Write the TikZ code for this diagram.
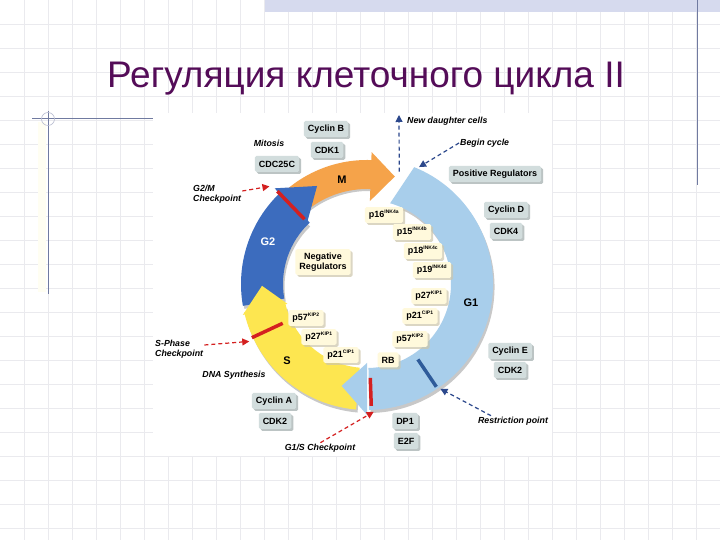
\documentclass[tikz,border=0pt]{standalone}
\usepackage{fontspec}
\setmainfont{Liberation Sans}
\setsansfont{Liberation Sans}
\usetikzlibrary{arrows.meta,shadows}
\definecolor{titlecol}{RGB}{84,12,88}
\definecolor{gridcol}{RGB}{234,234,238}
\definecolor{bandcol}{RGB}{214,218,238}
\definecolor{decocol}{RGB}{112,122,160}
\definecolor{gone}{RGB}{168,206,235}
\definecolor{sphase}{RGB}{253,230,80}
\definecolor{gtwo}{RGB}{60,108,190}
\definecolor{mphase}{RGB}{245,163,74}
\definecolor{ringshadow}{RGB}{200,200,200}
\definecolor{chkred}{RGB}{212,32,32}
\definecolor{restblue}{RGB}{46,91,154}
\definecolor{arrowblue}{RGB}{44,72,140}
\definecolor{greyfill}{RGB}{210,221,221}
\definecolor{greyshadow}{RGB}{160,172,172}
\definecolor{creamfill}{RGB}{255,249,220}
\definecolor{creamshadow}{RGB}{205,198,170}
\newcommand\myseg[5]{\fill[#1] (#2:#5pt) arc[start angle=#2,end angle=#3,radius=#5pt] -- (#3:#4pt) arc[start angle=#3,end angle=#2,radius=#4pt] -- cycle;}
\newcommand\myhead[6]{\fill[#1] (#2:#4pt) -- (#2:#5pt) -- (#3:#6pt) -- cycle;}
\newcommand\supx[1]{\textsuperscript{\fontsize{5}{5}\selectfont #1}}
\tikzset{
  gridline/.style={draw=gridcol,line width=0.8pt},
  greybox/.style={fill=greyfill,rounded corners=1.5pt,font=\fontsize{9}{10.5}\selectfont\bfseries,inner xsep=4pt,minimum height=16pt,
    drop shadow={shadow xshift=2pt,shadow yshift=-2pt,fill=greyshadow,opacity=0.7}},
  creambox/.style={fill=creamfill,rounded corners=1.5pt,font=\fontsize{9}{10.5}\selectfont\bfseries,inner xsep=4pt,minimum height=15pt,
    drop shadow={shadow xshift=2pt,shadow yshift=-2pt,fill=creamshadow,opacity=0.7}},
  itlabel/.style={font=\fontsize{8.8}{10}\selectfont\bfseries\itshape,inner sep=1pt},
  phaselabel/.style={font=\fontsize{11}{12}\selectfont\bfseries},
  redarrow/.style={draw=chkred,line width=1.2pt,dash pattern=on 4pt off 3pt,-{Triangle[length=7pt,width=7pt]}},
  bluearrow/.style={draw=arrowblue,line width=1.2pt,dash pattern=on 4pt off 3pt,-{Triangle[length=7pt,width=7pt]}},
  chkbar/.style={line width=3.5pt},
}
\begin{document}
\begin{tikzpicture}[x=1pt,y=1pt]
\useasboundingbox (0,0) rectangle (720,540);
\fill[white] (0,0) rectangle (720,540);
% grid
\foreach \i in {1,...,29} \draw[gridline] (\i*24,0) -- (\i*24,540);
\foreach \j in {1,...,22} \draw[gridline] (0,540-\j*24) -- (720,540-\j*24);
% top band and decorative lines
\fill[bandcol] (265,528) rectangle (720,540);
\draw[decocol,line width=0.9pt] (697,540) -- (697,355);
\fill[yellow!5] (38,418) rectangle (46,248);
\draw[decocol,line width=0.9pt] (32,422) -- (156,422);
\draw[decocol,line width=0.9pt] (48,429) -- (48,246);
\draw[decocol!50,line width=0.6pt] (48,421) circle (6.5);
% title
\node[font=\fontsize{37}{42}\selectfont,text=titlecol,inner sep=0pt,anchor=base] (title) at (366,452) {Регуляция клеточного цикла II};
% diagram area
\fill[white] (153,427) rectangle (552,84);
\begin{scope}[shift={(367,256)}]
  % shadows
  \begin{scope}[shift={(1.5,-3)}]
    \myseg{ringshadow}{68}{-89}{84}{126}
    \myseg{ringshadow}{-95}{-165}{84}{126}
    \myseg{ringshadow}{190}{134}{84}{126}
    \myseg{ringshadow}{132}{88}{96}{123}
  \end{scope}
  % G1 body with slanted start
  \fill[gone] (68:126pt) arc[start angle=68,end angle=-89,radius=126pt] -- (-89:84pt) arc[start angle=-89,end angle=74,radius=84pt] -- cycle;
  % M
  \myseg{mphase}{132}{87}{95}{124}
  \myhead{mphase}{88}{75.5}{83}{132}{111}
  % G2
  \myseg{gtwo}{190}{133}{84}{126}
  \myhead{gtwo}{134}{117}{86}{133}{110}
  % S
  \myseg{sphase}{-95}{-167}{84}{126}
  \myhead{sphase}{-166}{-179}{82}{128}{105}
  % G1 arrow head
  \myhead{gone}{-90}{-104}{79}{131}{105}
  % checkpoint bars
  \draw[chkbar,chkred] (134:90pt) -- (134:129pt);
  \draw[chkbar,chkred] (205:93pt) -- (205:127pt);
  \draw[chkbar,chkred] (-88:94pt) -- (-88:122pt);
  \draw[chkbar,restblue] (-56:91pt) -- (-56:124pt);
  % named anchors on the ring
  \coordinate (gmtip) at (135:138pt);
  \coordinate (sptip) at (206:131pt);
  \coordinate (gstip) at (-87:128pt);
  \coordinate (rptip) at (-55:128pt);
  \coordinate (newfrom) at (74:117pt);
  \coordinate (begintip) at (66:128pt);
\end{scope}
% phase labels
\node[phaselabel] (lM) at (342,360) {M};
\node[phaselabel,text=white] (lG2) at (268,298) {G2};
\node[phaselabel] (lS) at (287,179) {S};
\node[phaselabel] (lG1) at (471,237) {G1};
% grey boxes
\node[greybox] (cycB) at (326,411) {Cyclin B};
\node[greybox] (cdk1) at (327,390) {CDK1};
\node[greybox] (cdc25) at (277,376) {CDC25C};
\node[greybox] (posreg) at (495,366) {Positive Regulators};
\node[greybox] (cycD) at (506,330) {Cyclin D};
\node[greybox] (cdk4) at (506,309) {CDK4};
\node[greybox] (cycE) at (510,189) {Cyclin E};
\node[greybox] (cdk2a) at (510,170) {CDK2};
\node[greybox] (dp1) at (405,119) {DP1};
\node[greybox] (e2f) at (406,99) {E2F};
\node[greybox] (cycA) at (274,139) {Cyclin A};
\node[greybox] (cdk2b) at (275,119) {CDK2};
% cream boxes
\node[creambox,align=center] (negreg) at (323,278) {Negative\\Regulators};
\node[creambox] (p16) at (384,325) {p16\supx{INK4a}};
\node[creambox] (p15) at (412,308) {p15\supx{INK4b}};
\node[creambox] (p18) at (423,289) {p18\supx{INK4c}};
\node[creambox] (p19) at (432,270) {p19\supx{INK4d}};
\node[creambox] (p27r) at (429,244) {p27\supx{KIP1}};
\node[creambox] (p21r) at (420,224) {p21\supx{CIP1}};
\node[creambox] (p57r) at (410,201) {p57\supx{KIP2}};
\node[creambox] (p57l) at (306,222) {p57\supx{KIP2}};
\node[creambox] (p27l) at (319,203) {p27\supx{KIP1}};
\node[creambox] (p21l) at (341,185) {p21\supx{CIP1}};
\node[creambox] (rb) at (388,180) {RB};
% italic labels
\node[itlabel] (mitosis) at (269,397) {Mitosis};
\node[itlabel,align=left,anchor=west] (g2m) at (192,346) {G2/M\\Checkpoint};
\node[itlabel,anchor=west] (newd) at (406,419) {New daughter cells};
\node[itlabel,anchor=west] (begin) at (459,397) {Begin cycle};
\node[itlabel] (restr) at (513,119) {Restriction point};
\node[itlabel] (g1s) at (320,92) {G1/S Checkpoint};
\node[itlabel] (dna) at (234,165) {DNA Synthesis};
\node[itlabel,align=left,anchor=west] (sph) at (154,191) {S-Phase\\Checkpoint};
% connectors
\coordinate (newtip) at (399,425);
\draw[redarrow] (g2m.east |- 0,349) -- (gmtip);
\draw[redarrow] (sph.east |- 0,195) -- (sptip);
\draw[redarrow] (g1s.north east) ++(-36,0) -- (gstip);
\draw[bluearrow] (restr.north) ++(-22,0) -- (rptip);
\draw[bluearrow] (begin.west) -- (begintip);
\draw[bluearrow] (newfrom) -- (newtip);
\end{tikzpicture}
\end{document}
